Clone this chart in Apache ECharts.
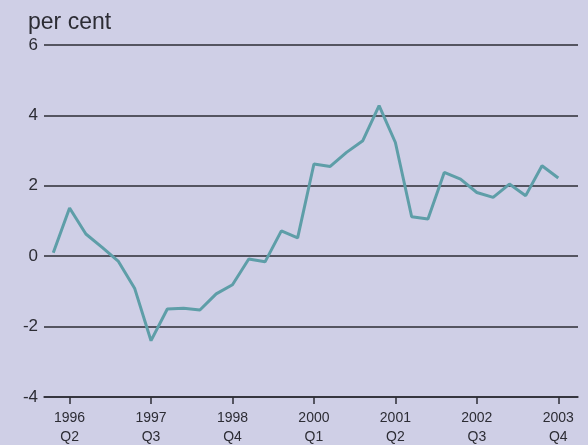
<!DOCTYPE html>
<html lang="en">
<head>
    <meta charset="UTF-8">
    <title>per cent</title>
    <style>
        body { margin: 0; overflow: hidden; background: #cfcfe6; }
        #chart { width: 588px; height: 445px; }
    </style>
</head>
<body>
    <div id="chart"></div>
    <script src="https://cdn.jsdelivr.net/npm/echarts@6/dist/echarts.min.js"></script>
    <script>
        // quarters, 1996 Q1 .. 2003 Q4
        var quarters = [
            '1996 Q1', '1996 Q2', '1996 Q3', '1996 Q4',
            '1997 Q1', '1997 Q2', '1997 Q3', '1997 Q4',
            '1998 Q1', '1998 Q2', '1998 Q3', '1998 Q4',
            '1999 Q1', '1999 Q2', '1999 Q3', '1999 Q4',
            '2000 Q1', '2000 Q2', '2000 Q3', '2000 Q4',
            '2001 Q1', '2001 Q2', '2001 Q3', '2001 Q4',
            '2002 Q1', '2002 Q2', '2002 Q3', '2002 Q4',
            '2003 Q1', '2003 Q2', '2003 Q3', '2003 Q4'
        ];
        var values = [
            0.1, 1.37, 0.63, 0.25,
            -0.15, -0.92, -2.4, -1.5,
            -1.48, -1.53, -1.07, -0.81,
            -0.08, -0.16, 0.72, 0.52,
            2.62, 2.55, 2.95, 3.28,
            4.28, 3.23, 1.12, 1.06,
            2.38, 2.19, 1.81, 1.67,
            2.05, 1.72, 2.57, 2.22
        ];
        var tickLabels = ['1996 Q2', '1997 Q3', '1998 Q4', '2000 Q1', '2001 Q2', '2002 Q3', '2003 Q4'];
        var yTicks = [-4, -2, 0, 2, 4, 6];

        var tickIdx = tickLabels.map(function (l) { return quarters.indexOf(l); });
        var lineData = values.map(function (v, i) { return [i, v]; });

        var ink = '#2c2c34';
        var chart = echarts.init(document.getElementById('chart'));
        chart.setOption({
            backgroundColor: '#cfcfe6',
            animation: false,
            title: {
                text: 'per cent',
                left: 23,
                top: 6,
                textStyle: { fontFamily: 'Liberation Sans', fontSize: 23, fontWeight: 'normal', color: ink }
            },
            grid: { left: 44, right: 10, top: 45, bottom: 48, outerBoundsMode: 'none' },
            xAxis: {
                type: 'value',
                min: -0.57,
                max: 32.21,
                splitLine: { show: false },
                axisLine: { show: true, onZero: false, lineStyle: { color: ink, width: 1.5 } },
                axisTick: {
                    show: true,
                    customValues: tickIdx,
                    length: 7,
                    lineStyle: { color: ink, width: 1.5 }
                },
                axisLabel: {
                    customValues: tickIdx,
                    margin: 12,
                    lineHeight: 19,
                    fontFamily: 'Liberation Sans',
                    fontSize: 14,
                    color: ink,
                    formatter: function (v) {
                        return quarters[Math.round(v)].replace(' ', '\n');
                    }
                }
            },
            yAxis: {
                type: 'value',
                min: yTicks[0],
                max: yTicks[yTicks.length - 1],
                interval: 2,
                axisLine: { show: false },
                axisTick: { show: false },
                splitLine: { show: true, lineStyle: { color: ink, width: 1.5 } },
                axisLabel: {
                    margin: 6,
                    fontFamily: 'Liberation Sans',
                    fontSize: 17,
                    color: ink
                }
            },
            series: [{
                type: 'line',
                data: lineData,
                symbol: 'none',
                lineStyle: { color: '#5e9ea8', width: 3 }
            }]
        });
    </script>
</body>
</html>
